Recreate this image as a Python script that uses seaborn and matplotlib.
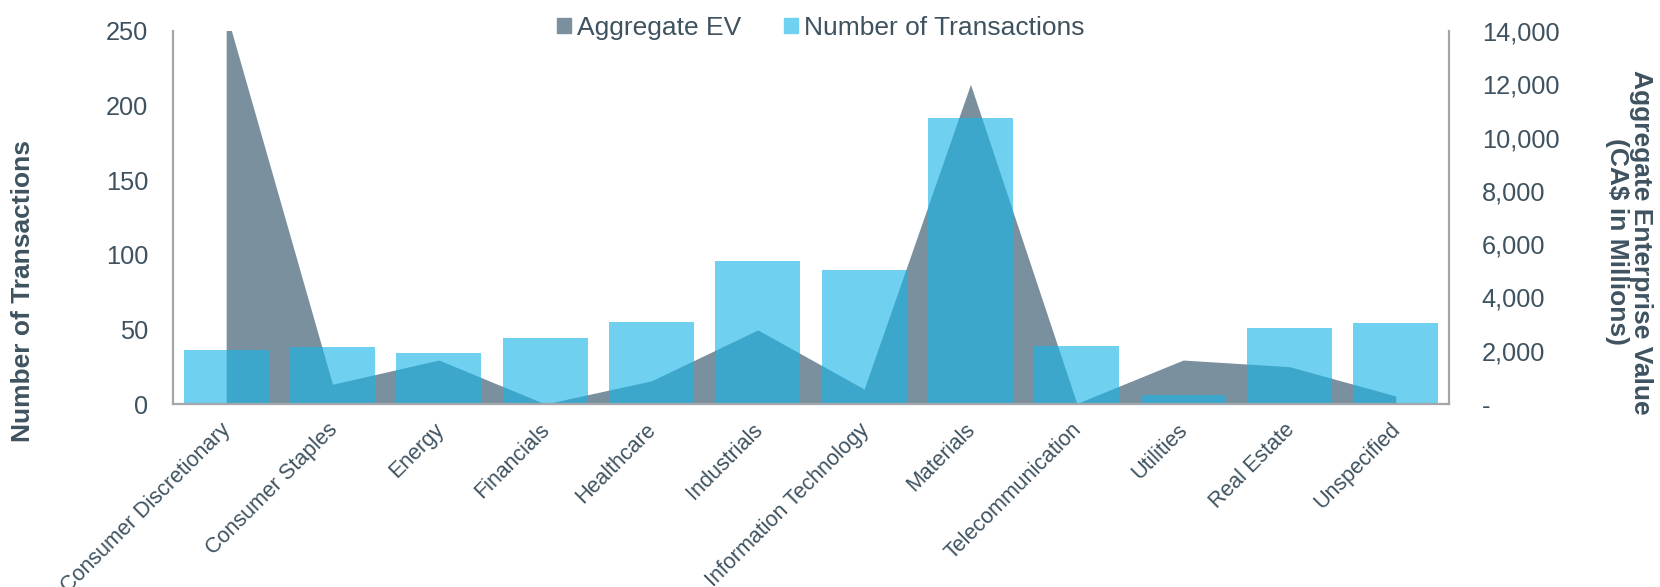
import matplotlib
matplotlib.use("Agg")
import matplotlib.pyplot as plt
import seaborn as sns
import numpy as np
from matplotlib.patches import Patch
from matplotlib.ticker import FuncFormatter, FixedLocator

categories = ["Consumer Discretionary", "Consumer Staples", "Energy", "Financials",
              "Healthcare", "Industrials", "Information Technology", "Materials",
              "Telecommunication", "Utilities", "Real Estate", "Unspecified"]
transactions = [36, 38, 34, 44, 55, 96, 90, 192, 39, 6, 51, 54]
aggregate_ev = [14700, 740, 1650, 0, 870, 2780, 560, 12000, 20, 1650, 1400, 300]

left_ticks = [0, 50, 100, 150, 200, 250]
right_ticks = [0, 2000, 4000, 6000, 8000, 10000, 12000, 14000]

text_color = "#3E5260"
area_color = "#7A909E"
bar_color = "#17B4E7"
bar_legend_color = "#70D1F0"
spine_color = "#A3A7AB"

sns.set_theme(style="white")
plt.rcParams["font.family"] = ["Liberation Sans", "DejaVu Sans"]

W, H = 1660, 587
fig = plt.figure(figsize=(W / 100, H / 100), dpi=100)
ax = fig.add_axes([173 / W, 1 - 404 / H, 1276 / W, 373 / H])

sns.barplot(x=categories, y=transactions, ax=ax, color=bar_color, alpha=0.62,
            saturation=1, width=0.8, linewidth=0)

ax2 = ax.twinx()
positions = np.arange(len(categories))
ax2.fill_between(positions, aggregate_ev, 0, color=area_color, linewidth=0)

ax.set_zorder(ax2.get_zorder() + 1)
ax.patch.set_visible(False)

ax.set_xlim(-0.5, len(categories) - 0.5)
ax.set_ylim(0, 250)
ax2.set_ylim(0, 14000)

ax.yaxis.set_major_locator(FixedLocator(left_ticks))
ax2.yaxis.set_major_locator(FixedLocator(right_ticks))
ax2.yaxis.set_major_formatter(FuncFormatter(lambda v, p: "-" if v == 0 else f"{v:,.0f}"))

# labels end slightly right of each category centre, as in the reference
ax.set_xticks(positions + 0.085)
ax.set_xticklabels(categories, rotation=45, ha="right", fontsize=15.5,
                   color=text_color)
ax.tick_params(axis="x", length=0, pad=11)
ax.tick_params(axis="y", length=0, pad=18, labelsize=18.3, labelcolor=text_color)
ax2.tick_params(axis="y", length=0, pad=23.5, labelsize=18.3, labelcolor=text_color)
for lab in ax2.get_yticklabels():
    lab.set_horizontalalignment("left")

ax.set_xlabel("")
ax.set_ylabel("")
ax.grid(False)
ax2.grid(False)

for s in ["top", "right"]:
    ax.spines[s].set_visible(False)
for s in ["left", "bottom"]:
    ax.spines[s].set_color(spine_color)
    ax.spines[s].set_linewidth(1.6)
for s in ["top", "left", "bottom"]:
    ax2.spines[s].set_visible(False)
ax2.spines["right"].set_color(spine_color)
ax2.spines["right"].set_linewidth(1.6)

fig.text(23 / W, 1 - 291 / H, "Number of Transactions", rotation=90,
         ha="center", va="center", fontsize=19, fontweight="bold", color=text_color)
fig.text(1629 / W, 1 - 242 / H, "Aggregate Enterprise Value\n(CA$ in Millions)",
         rotation=270, ha="center", va="center", multialignment="center",
         fontsize=19, fontweight="bold", color=text_color, linespacing=1.05)

handles = [Patch(color=area_color, label="Aggregate EV"),
           Patch(color=bar_legend_color, label="Number of Transactions")]
fig.legend(handles=handles, loc="upper center", bbox_to_anchor=(821 / W, 1.0),
           ncol=2, frameon=False, fontsize=19, handlelength=0.53, handleheight=0.53,
           columnspacing=1.63, handletextpad=0.23, labelcolor=text_color,
           borderaxespad=0.2)

fig.savefig("out.png", dpi=100)
